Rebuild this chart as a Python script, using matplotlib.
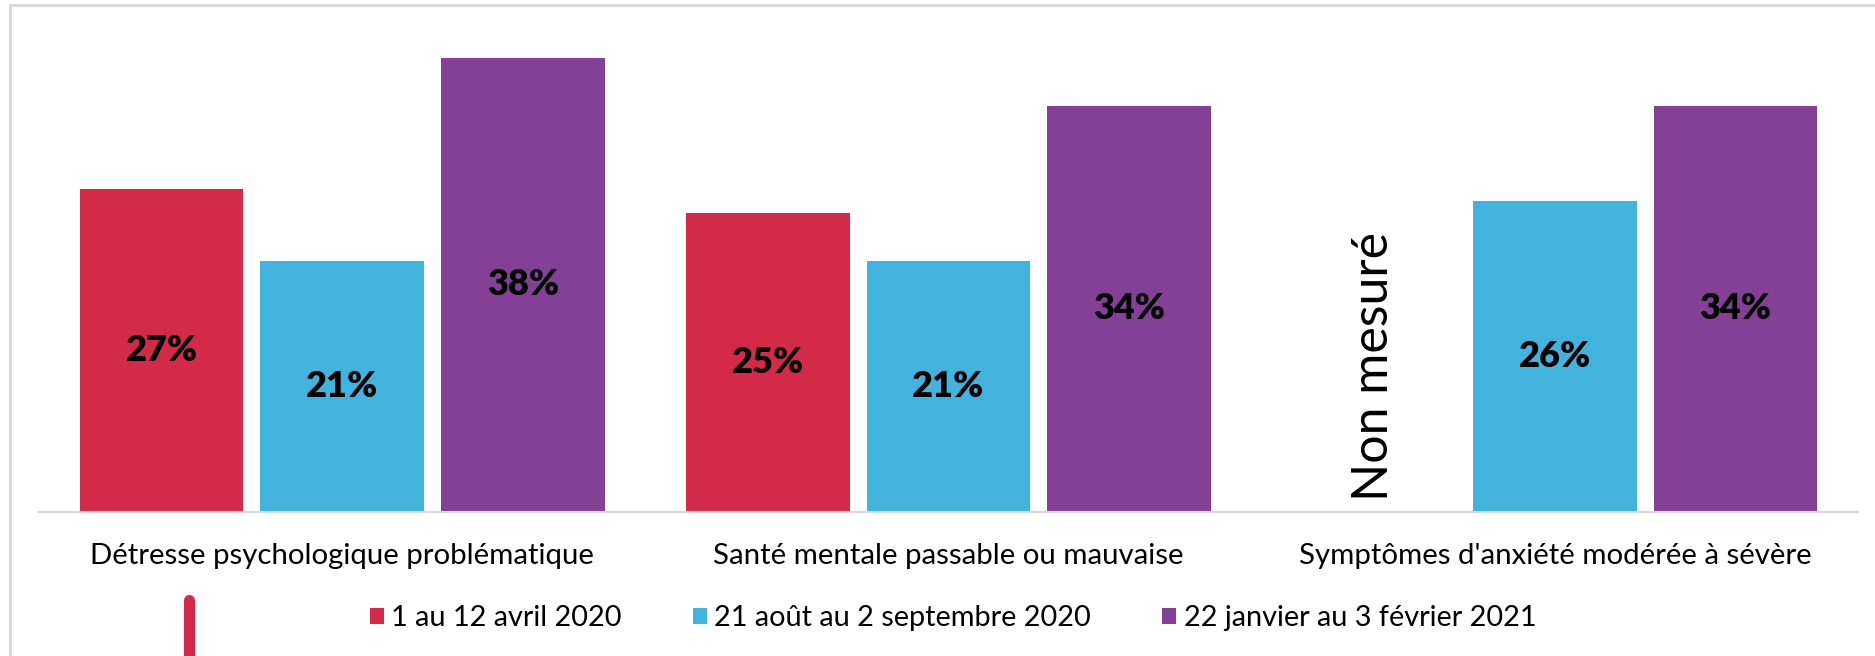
import numpy as np
from matplotlib import pyplot as plt
from matplotlib.patches import Patch, Rectangle
from matplotlib.lines import Line2D

# Data:

categories = ['Détresse psychologique problématique',
              'Santé mentale passable ou mauvaise',
              "Symptômes d'anxiété modérée à sévère"]
periods = ['1 au 12 avril 2020', '21 août au 2 septembre 2020', '22 janvier au 3 février 2021']

avril_2020 = [27, 25, None]          # None = non mesuré
aout_2020 = [21, 21, 26]
janvier_2021 = [38, 34, 34]

colors = ['#D32A49', '#41B3DD', '#843F96']

plt.rcParams['font.family'] = ['Lato', 'DejaVu Sans']

fig = plt.figure(figsize=(18.75, 6.56), dpi=100)
ax = fig.add_axes([39 / 1875, 1 - 512 / 656, (1858 - 39) / 1875, 478 / 656])

x = np.arange(len(categories))
offset = 0.298
width = 0.27

for i, (series, col) in enumerate(zip([avril_2020, aout_2020, janvier_2021], colors)):
    for j, v in enumerate(series):
        xpos = x[j] + (i - 1) * offset
        if v is None:
            ax.text(xpos, 12.2, 'Non mesuré', rotation=90, ha='center', va='center',
                    fontsize=36, color='black')
            continue
        ax.bar(xpos, v, width=width, color=col)
        ax.text(xpos, v / 2, f'{v}%', ha='center', va='center', fontsize=26,
                fontweight='heavy', color='black')

ax.set_xlim(-0.5, 2.5)
ax.set_ylim(0, 40)
ax.set_yticks([])
ax.set_xticks([])
for s in ['top', 'right', 'left']:
    ax.spines[s].set_visible(False)
ax.spines['bottom'].set_color('#d9d9d9')
ax.spines['bottom'].set_linewidth(1.5)

for j, c in enumerate(categories):
    ax.text(x[j], -3.7, c, ha='center', va='center', fontsize=21.2, color='black')

handles = [Patch(facecolor=c, edgecolor='none') for c in colors]
fig.legend(handles, periods, loc='center', bbox_to_anchor=(953 / 1875, 1 - 618 / 656),
           ncol=3, frameon=False, fontsize=20.8, handlelength=0.5, handleheight=0.5,
           handletextpad=0.25, columnspacing=2.45)

# cadre gris et trait rouge
fig.patches.append(Rectangle((10 / 1875, -0.1), 1.1, 1 - 5 / 656 + 0.1, transform=fig.transFigure,
                             fill=False, edgecolor='#d9d9d9', linewidth=2.2))
fig.lines.append(Line2D([188.5 / 1875, 188.5 / 1875], [1 - 600 / 656, -0.05], transform=fig.transFigure,
                        color='#D32A49', linewidth=8, solid_capstyle='round'))

plt.savefig('out.png', dpi=100)
